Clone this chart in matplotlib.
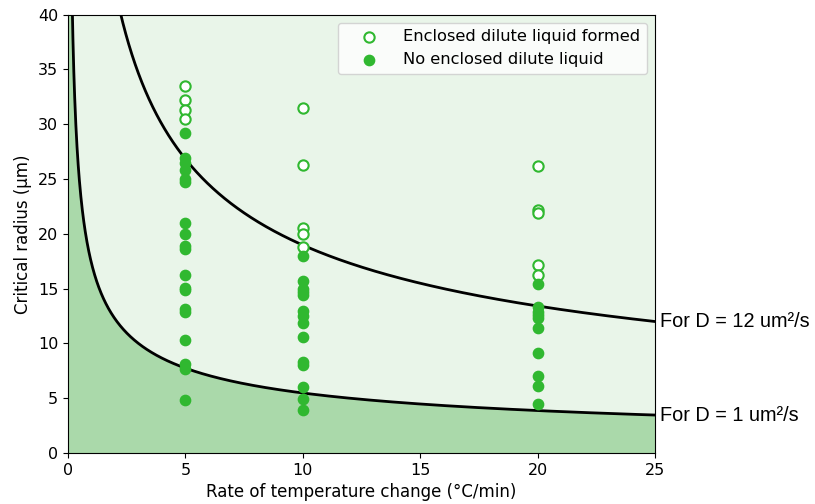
import numpy as np
import matplotlib
matplotlib.use('Agg')
import matplotlib.pyplot as plt

# measured critical radius (um) at each heating rate (C/min)
rate_open = [5, 5, 5, 5, 10, 10, 10, 10, 10, 20, 20, 20, 20, 20]
r_open = [33.5, 32.2, 31.3, 30.5, 31.5, 26.3, 20.5, 20.0, 18.8, 26.2, 22.2, 21.9, 17.2, 16.2]

rate_fill = [5] * 19 + [10] * 14 + [20] * 10
r_fill = [29.2, 26.9, 26.5, 25.8, 25.0, 24.7, 21.0, 20.0, 18.9, 18.6, 16.2, 15.1, 14.9, 13.1, 12.9, 10.3, 8.1, 7.7, 4.8,
          18.0, 15.7, 15.0, 14.7, 14.4, 13.0, 12.5, 11.9, 10.6, 8.3, 8.0, 6.0, 4.9, 3.9,
          15.4, 13.3, 12.9, 12.6, 12.3, 11.4, 9.1, 7.0, 6.1, 4.5]

D_values = [1, 12]          # diffusivity, um^2/s
K = 300.0                   # r = sqrt(K * D / rate)
curve_labels = ['For D = 1 um²/s', 'For D = 12 um²/s']

green = '#30b830'

fig = plt.figure(figsize=(8.15, 5.04), dpi=100)
ax = fig.add_axes([68 / 815, 1 - 453 / 504, 587 / 815, 438.3 / 504])

x = np.linspace(0.01, 25, 2000)
r1 = np.sqrt(K * D_values[0] / x)
r2 = np.sqrt(K * D_values[1] / x)

ax.fill_between(x, 0, np.minimum(r1, 40), color='tab:green', alpha=0.4, lw=0)
ax.fill_between(x, np.minimum(r1, 40), 40, color='tab:green', alpha=0.1, lw=0)
ax.plot(x, r1, 'k-', lw=2)
ax.plot(x, r2, 'k-', lw=2)

ax.scatter(rate_open, r_open, s=55, facecolors='white', edgecolors=green, linewidths=1.5,
           label='Enclosed dilute liquid formed', zorder=3)
ax.scatter(rate_fill, r_fill, s=55, color=green, label='No enclosed dilute liquid', zorder=3)

ax.set_xlim(0, 25)
ax.set_ylim(0, 40)
ax.set_xticks([0, 5, 10, 15, 20, 25])
ax.set_yticks(np.arange(0, 41, 5))
ax.tick_params(labelsize=11.5)
ax.set_xlabel('Rate of temperature change (°C/min)', fontsize=12)
ax.set_ylabel('Critical radius (μm)', fontsize=12)
ax.legend(loc='upper right', fontsize=11.7, handlelength=3.0, handletextpad=0.6, borderpad=0.4)

# curve labels beside the right spine
for D, lab in zip(D_values, curve_labels):
    ax.text(25.2, np.sqrt(K * D / 25), lab, fontsize=14.3, family='Liberation Sans',
            va='center', ha='left', clip_on=False)

fig.savefig('out.png', dpi=100)
